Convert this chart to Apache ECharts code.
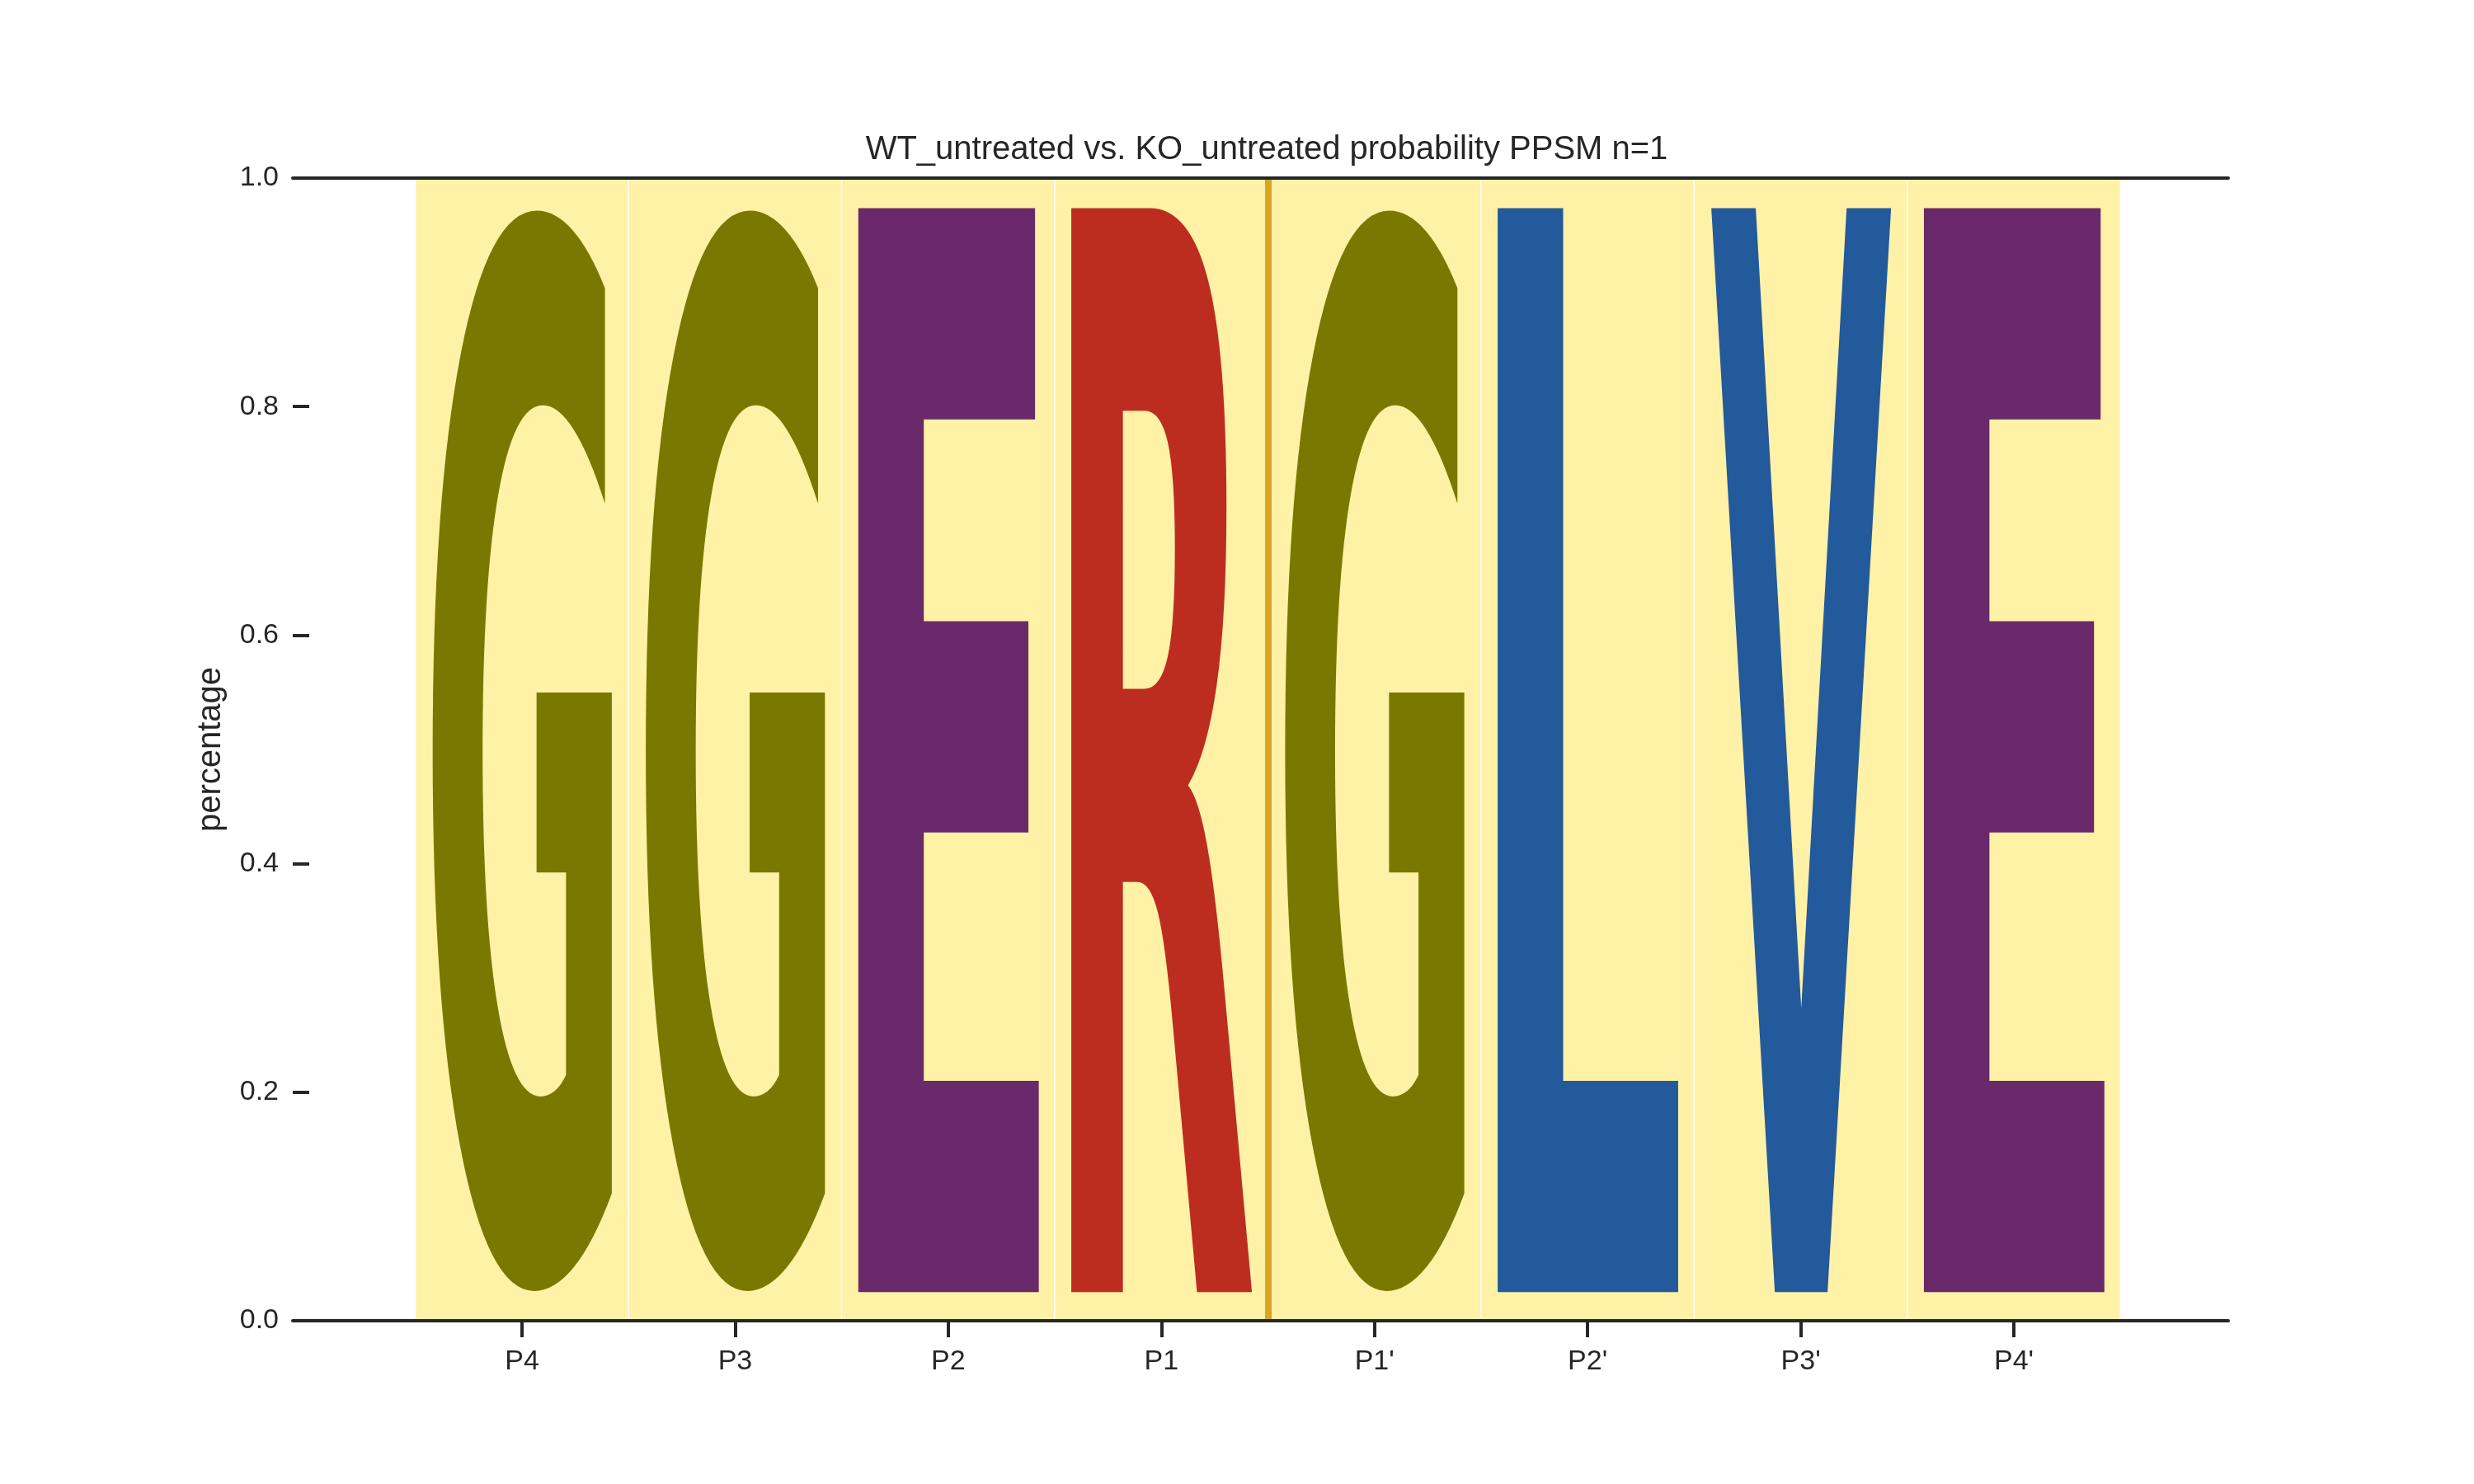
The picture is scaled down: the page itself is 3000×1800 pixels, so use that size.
<!DOCTYPE html>
<html>
<head>
<meta charset="utf-8">
<script src="https://cdn.jsdelivr.net/npm/echarts@6/dist/echarts.min.js"></script>
<style>
html, body { margin: 0; padding: 0; background: #ffffff; }
#chart { width: 3000px; height: 1800px; }
</style>
</head>
<body>
<div id="chart"></div>
<script>
// ---------------- data ----------------
const positions = ["P4", "P3", "P2", "P1", "P1'", "P2'", "P3'", "P4'"];
const residues = ["G", "G", "E", "R", "G", "L", "V", "E"];
const probabilities = [1, 1, 1, 1, 1, 1, 1, 1];
const yTicks = [0, 0.2, 0.4, 0.6, 0.8, 1.0];
const cleavageSite = 3.5;           // boundary between P1 and P1'
const highlightTop = 1.0;
const titleText = "WT_untreated vs. KO_untreated probability PPSM n=1";
const yLabel = "percentage";

// ---------------- styles ----------------
const residueColors = { G: '#7a7800', E: '#6a296a', R: '#bc2d20', L: '#225a9b', V: '#225a9b' };
const TEXT_COLOR = '#262626';
const UI_FONT = '"Liberation Sans", Arial, Helvetica, sans-serif';
const X_MIN = -1.0757, X_MAX = 8.006;
const HALF_W = 0.425;   // half width of a glyph, in position units
const VPAD = 0.05;      // vertical padding fraction of each glyph

// glyph ink measurement
const GLYPH_PX = 200;
const GLYPH_FONT = 'bold ' + GLYPH_PX + 'px "DejaVu Sans"';
const mctx = document.createElement('canvas').getContext('2d');
const inkCache = {};
function inkBox(ch) {
  if (inkCache[ch]) return inkCache[ch];
  mctx.font = GLYPH_FONT;
  mctx.textBaseline = 'middle';
  mctx.textAlign = 'left';
  const m = mctx.measureText(ch);
  const b = { L: m.actualBoundingBoxLeft, R: m.actualBoundingBoxRight,
              A: m.actualBoundingBoxAscent, D: m.actualBoundingBoxDescent };
  inkCache[ch] = b;
  return b;
}

const chart = echarts.init(document.getElementById('chart'), null, { renderer: 'canvas' });

const xTickValues = positions.map((_, i) => i);

const option = {
  animation: false,
  backgroundColor: '#ffffff',
  grid: { left: 355, right: 298, top: 216, bottom: 198, containLabel: false },
  graphic: [{
    type: 'text',
    x: 1536,
    y: 162,
    silent: true,
    style: {
      text: titleText,
      font: '40px ' + UI_FONT,
      fill: TEXT_COLOR,
      align: 'center', textAlign: 'center',
      verticalAlign: 'top', textVerticalAlign: 'top'
    }
  }],
  xAxis: [{
    type: 'value',
    position: 'bottom',
    z: 10,
    min: X_MIN, max: X_MAX,
    axisLine: { show: true, onZero: false, lineStyle: { color: TEXT_COLOR, width: 4 } },
    axisTick: { show: true, customValues: xTickValues, length: 20, lineStyle: { color: TEXT_COLOR, width: 4 } },
    axisLabel: {
      show: true, customValues: xTickValues,
      formatter: v => positions[Math.round(v)],
      margin: 33, fontSize: 34, fontFamily: UI_FONT, color: TEXT_COLOR
    },
    splitLine: { show: false }
  }, {
    type: 'value',
    position: 'top',
    z: 10,
    min: X_MIN, max: X_MAX,
    axisLine: { show: true, onZero: false, lineStyle: { color: TEXT_COLOR, width: 4 } },
    axisTick: { show: false },
    axisLabel: { show: false },
    splitLine: { show: false }
  }],
  yAxis: {
    type: 'value',
    z: 10,
    min: yTicks[0], max: yTicks[yTicks.length - 1], interval: 0.2,
    axisLine: { show: false, onZero: false },
    axisTick: { show: true, inside: true, length: 20, lineStyle: { color: TEXT_COLOR, width: 4 } },
    axisLabel: {
      margin: 17, fontSize: 34, fontFamily: UI_FONT, color: TEXT_COLOR,
      formatter: v => v.toFixed(1)
    },
    splitLine: { show: false },
    name: yLabel,
    nameLocation: 'middle',
    nameRotate: 90,
    nameGap: 79,
    nameTextStyle: { fontSize: 40, fontFamily: UI_FONT, color: TEXT_COLOR }
  },
  series: [{
    type: 'custom',
    name: 'highlight',
    xAxisIndex: 0, yAxisIndex: 0,
    z: 1,
    silent: true,
    data: positions.map((_, i) => [i, highlightTop]),
    renderItem: function (params, api) {
      const i = api.value(0), top = api.value(1);
      const p0 = api.coord([i - 0.5, top]);
      const p1 = api.coord([i + 0.5, 0]);
      return {
        type: 'rect',
        shape: { x: p0[0], y: p0[1], width: p1[0] - p0[0], height: p1[1] - p0[1] },
        style: { fill: 'rgba(255,215,0,0.35)', stroke: 'rgba(255,255,255,0.8)', lineWidth: 1.5 }
      };
    },
    markLine: {
      silent: true,
      symbol: ['none', 'none'],
      label: { show: false },
      lineStyle: { color: '#daa520', width: 8, type: 'solid' },
      data: [{ xAxis: cleavageSite }],
      z: 5
    }
  }, {
    type: 'custom',
    name: 'logo',
    xAxisIndex: 0, yAxisIndex: 0,
    z: 3,
    silent: true,
    data: probabilities.map((p, i) => [i, p]),
    renderItem: function (params, api) {
      const i = api.value(0), h = api.value(1);
      const ch = residues[params.dataIndex];
      const b = inkBox(ch);
      const left = api.coord([i - HALF_W, 0])[0];
      const right = api.coord([i + HALF_W, 0])[0];
      const top = api.coord([i, h - h * VPAD / 2])[1];
      const bottom = api.coord([i, h * VPAD / 2])[1];
      const sx = (right - left) / (b.L + b.R);
      const sy = (bottom - top) / (b.A + b.D);
      return {
        type: 'text',
        x: left + b.L * sx,
        y: top + b.A * sy,
        scaleX: sx,
        scaleY: sy,
        style: {
          text: ch,
          font: GLYPH_FONT,
          fill: residueColors[ch],
          align: 'left', textAlign: 'left',
          verticalAlign: 'middle', textVerticalAlign: 'middle'
        }
      };
    }
  }]
};

chart.setOption(option);
</script>
</body>
</html>
